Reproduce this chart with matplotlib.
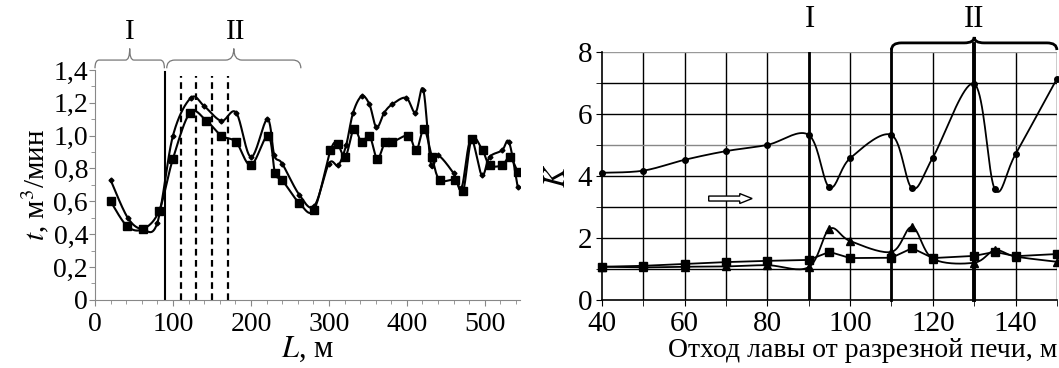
import numpy as np
import matplotlib.pyplot as plt
from matplotlib.path import Path
from matplotlib.patches import PathPatch, FancyArrow
from matplotlib.ticker import MultipleLocator

plt.rcParams['font.family'] = ['Liberation Serif', 'DejaVu Serif']
plt.rcParams['mathtext.fontset'] = 'stix'

# left panel: t (m3/min) vs L (m)
L_diam = [20, 42, 61, 80, 100, 123, 140, 162, 181, 200, 221, 230, 240, 262, 281,
          300, 312, 322, 331, 342, 352, 361, 371, 381, 399, 411, 421, 431, 440,
          460, 470, 482, 496, 506, 522, 531, 542]
t_diam = [0.73, 0.50, 0.43, 0.47, 1.00, 1.23, 1.18, 1.09, 1.14, 0.87, 1.10, 0.88,
          0.83, 0.64, 0.57, 0.83, 0.82, 0.94, 1.14, 1.24, 1.19, 1.05, 1.14, 1.19,
          1.23, 1.14, 1.28, 0.82, 0.88, 0.77, 0.68, 0.98, 0.76, 0.87, 0.91, 0.96, 0.69]
L_sq = [20, 41, 61, 82, 100, 122, 143, 162, 181, 200, 222, 231, 240, 262, 281,
        302, 311, 321, 332, 342, 352, 362, 372, 381, 402, 412, 422, 432, 442,
        462, 472, 483, 497, 506, 522, 532, 542]
t_sq = [0.60, 0.45, 0.43, 0.54, 0.86, 1.14, 1.09, 1.00, 0.96, 0.82, 1.00, 0.77,
        0.73, 0.59, 0.55, 0.91, 0.95, 0.87, 1.04, 0.96, 1.00, 0.86, 0.96, 0.96,
        1.00, 0.91, 1.04, 0.87, 0.73, 0.73, 0.66, 0.98, 0.91, 0.82, 0.82, 0.87, 0.78]
L_solid = 90
L_dashed = [110, 130, 150, 170]

# right panel: K vs face advance (m)
X_r = [40, 50, 60, 70, 80, 90, 95, 100, 110, 115, 120, 130, 135, 140, 150]
K_circ = [4.10, 4.17, 4.52, 4.80, 5.00, 5.32, 3.63, 4.57, 5.32, 3.60, 4.59, 6.97, 3.57, 4.70, 7.13]
K_tri = [1.07, 1.05, 1.07, 1.08, 1.12, 1.06, 2.29, 1.90, 1.55, 2.35, 1.33, 1.20, 1.60, 1.40, 1.23]
K_sq = [1.07, 1.10, 1.16, 1.22, 1.26, 1.29, 1.55, 1.35, 1.36, 1.67, 1.35, 1.42, 1.55, 1.41, 1.48]


def smooth(x, y, n=20):
    # catmull-rom curve through the points, only for drawing the line
    x = np.asarray(x, float); y = np.asarray(y, float)
    px = np.r_[x[0], x, x[-1]]; py = np.r_[y[0], y, y[-1]]
    xs, ys = [], []
    s = np.linspace(0, 1, n, endpoint=False)
    for i in range(1, len(px) - 2):
        for p, out in ((px, xs), (py, ys)):
            p0, p1, p2, p3 = p[i-1], p[i], p[i+1], p[i+2]
            out.extend(0.5 * (2*p1 + (-p0 + p2)*s + (2*p0 - 5*p1 + 4*p2 - p3)*s**2
                              + (-p0 + 3*p1 - 3*p2 + p3)*s**3))
    xs.append(x[-1]); ys.append(y[-1])
    return np.array(xs), np.array(ys)


def brace(ax, x0, x1, y_tip, y_line, y_peak, **kw):
    xm = (x0 + x1) / 2
    r = (x1 - x0) * 0.06
    verts = [(x0, y_tip), (x0, y_line), (x0 + r, y_line),
             (xm - r, y_line),
             (xm, y_line), (xm, y_peak),
             (xm, y_line), (xm + r, y_line),
             (x1 - r, y_line),
             (x1, y_line), (x1, y_tip)]
    codes = [Path.MOVETO, Path.CURVE3, Path.CURVE3, Path.LINETO,
             Path.CURVE3, Path.CURVE3, Path.CURVE3, Path.CURVE3,
             Path.LINETO, Path.CURVE3, Path.CURVE3]
    ax.add_patch(PathPatch(Path(verts, codes), fill=False, clip_on=False, **kw))


fig = plt.figure(figsize=(10.59, 3.68), dpi=100)
ax1 = fig.add_axes([0.0897, 0.185, 0.4013, 0.625])
ax2 = fig.add_axes([0.5685, 0.185, 0.4295, 0.674])

# ---- left panel
sx, sy = smooth(L_diam, t_diam)
ax1.plot(sx, sy, color='black', lw=1.5)
ax1.plot(L_diam, t_diam, 'D', color='black', ms=2.5)
sx, sy = smooth(L_sq, t_sq)
ax1.plot(sx, sy, color='black', lw=1.5)
ax1.plot(L_sq, t_sq, 's', color='black', ms=5.5)
ax1.plot([L_solid, L_solid], [0, 1.39], color='black', lw=1.5)
for xv in L_dashed:
    ax1.plot([xv, xv], [0, 1.36], color='black', lw=1.6, ls=(0, (3, 2)))

ax1.set_xlim(0, 545)
ax1.set_ylim(0, 1.4)
ax1.xaxis.set_major_locator(MultipleLocator(100))
ax1.xaxis.set_minor_locator(MultipleLocator(20))
ax1.yaxis.set_minor_locator(MultipleLocator(0.1))
ax1.set_yticks(np.arange(0, 1.41, 0.2))
ax1.set_yticklabels(['0'] + [f'{v:.1f}'.replace('.', ',') for v in np.arange(0.2, 1.41, 0.2)])
for sp in ('top', 'right'):
    ax1.spines[sp].set_visible(False)
for sp in ('left', 'bottom'):
    ax1.spines[sp].set_color('#888888')
ax1.tick_params(which='both', direction='out', color='#888888', labelsize=20)
ax1.tick_params(axis='y', pad=1)
ax1.tick_params(axis='x', pad=5)
ax1.tick_params(which='major', length=4)
ax1.tick_params(which='minor', length=3)
ax1.set_xlabel(r'$L$, м', fontsize=22, labelpad=-2)
ax1.set_ylabel(r'$t$, м$^3$/мин', fontsize=21, labelpad=2)

brace(ax1, 0, 89, 1.41, 1.46, 1.53, color='#777777', lw=0.9)
brace(ax1, 92, 264, 1.41, 1.46, 1.53, color='#777777', lw=0.9)
ax1.text(45, 1.63, 'I', fontsize=21, ha='center', va='center', clip_on=False)
ax1.text(181, 1.63, 'II', fontsize=21, ha='center', va='center', clip_on=False)

# ---- right panel
for xv in range(50, 151, 10):
    ax2.axvline(xv, color='black', lw=1.0, zorder=1)
for yv in range(1, 8):
    ax2.axhline(yv, color='#888888' if yv == 5 else 'black', lw=1.0, zorder=1)
ax2.axhline(8, color='#999999', lw=1.0, zorder=1)
ax2.plot([90, 90], [0, 8], color='black', lw=2.0)
ax2.plot([110, 110], [0, 8.1], color='black', lw=2.0, clip_on=False)
ax2.plot([130, 130], [0, 8.25], color='black', lw=2.8, clip_on=False)

sx, sy = smooth(X_r, K_circ)
ax2.plot(sx, sy, color='black', lw=1.3, zorder=3)
ax2.plot(X_r, K_circ, 'o', color='black', ms=4, zorder=4, clip_on=False)
sx, sy = smooth(X_r, K_tri)
ax2.plot(sx, sy, color='black', lw=1.3, zorder=3)
ax2.plot(X_r, K_tri, '^', color='black', ms=6, zorder=4, clip_on=False)
ax2.plot(X_r, K_sq, '-s', color='black', lw=1.3, ms=6, zorder=4, clip_on=False)

ax2.add_patch(FancyArrow(65.8, 3.27, 7.5, 0, width=0.16, head_width=0.32,
                         head_length=3.0, facecolor='white', edgecolor='black',
                         lw=1.0, zorder=5, length_includes_head=False))

ax2.set_xlim(40, 150)
ax2.set_ylim(0, 8)
ax2.set_xticks(range(40, 141, 20))
ax2.xaxis.set_minor_locator(MultipleLocator(10))
ax2.set_yticks(range(0, 9, 2))
ax2.yaxis.set_minor_locator(MultipleLocator(1))
for sp in ('top', 'right'):
    ax2.spines[sp].set_visible(False)
ax2.spines['left'].set_linewidth(1.2)
ax2.spines['bottom'].set_linewidth(1.2)
ax2.tick_params(which='both', direction='out', length=4, labelsize=21)
ax2.tick_params(axis='y', pad=3)
ax2.tick_params(axis='x', pad=4)
ax2.set_ylabel(r'$K$', fontsize=22, labelpad=4)
ax2.set_xlabel('Отход лавы от разрезной печи, м', fontsize=20, labelpad=1,
               ha='right', x=1.0)

brace(ax2, 110, 150, 8.06, 8.29, 8.48, color='black', lw=2.0)
ax2.text(90.3, 9.05, 'I', fontsize=22, ha='center', va='center', clip_on=False)
ax2.text(130, 9.05, 'II', fontsize=22, ha='center', va='center', clip_on=False)

plt.savefig('out.png', dpi=100)
